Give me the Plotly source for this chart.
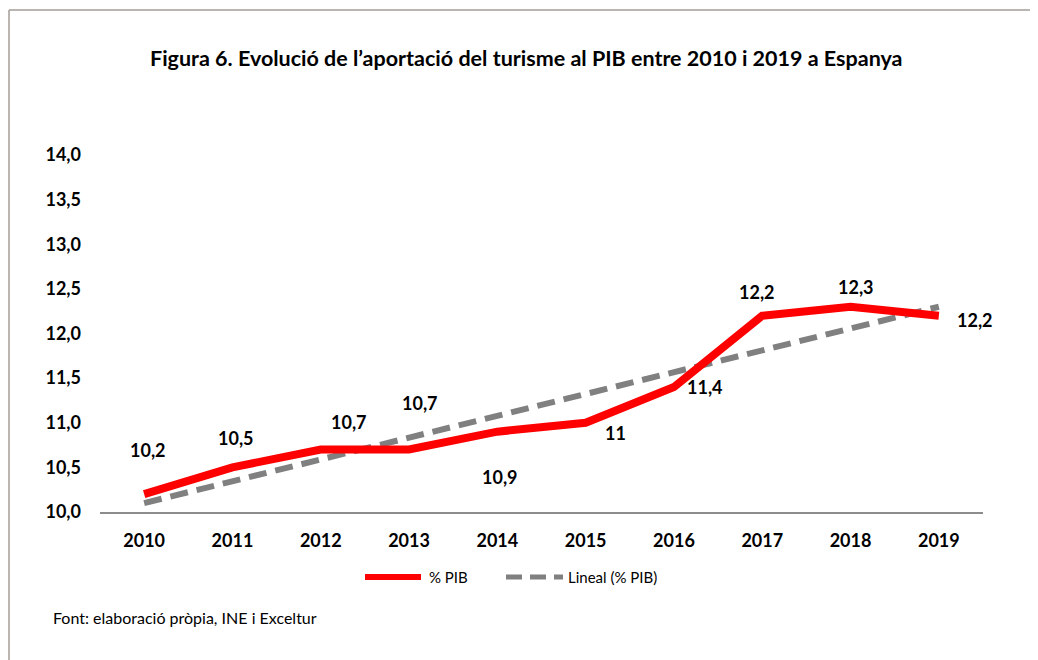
import plotly.graph_objects as go

years = ["2010", "2011", "2012", "2013", "2014", "2015", "2016", "2017", "2018", "2019"]
pib = [10.2, 10.5, 10.7, 10.7, 10.9, 11.0, 11.4, 12.2, 12.3, 12.2]
trend_years = ["2010", "2019"]
trend_vals = [10.1, 12.3]
y_ticks = [10.0, 10.5, 11.0, 11.5, 12.0, 12.5, 13.0, 13.5, 14.0]

FONT = "Lato"
OFF = 8  # page body margin
W, H = 1038 - OFF, 660 - OFF
# desired plot area in page pixels: x 100..983, y 155..512
L, T = 100 - OFF, 155 - OFF
PW, PH = 883, 357
R, B = W - L - PW, H - T - PH


def px(x):
    return (x - OFF - L) / PW


def py(y):
    return (T + PH - (y - OFF)) / PH


# label offsets in pixels (dx, dy) relative to each point
offsets = [(4, -44), (4, -29), (28, -28), (11, -47), (3, 45),
           (30, 10), (31, 0), (-5, -24), (5, -20), (36, 4)]

xi = list(range(len(years)))
fig = go.Figure()
fig.add_trace(go.Scatter(
    x=[years.index(y) for y in trend_years], y=trend_vals, mode="lines",
    line=dict(color="#808080", width=6, dash="18px,9px"),
    name="Lineal (% PIB)", showlegend=False, hoverinfo="skip"))
fig.add_trace(go.Scatter(
    x=xi, y=pib, mode="lines",
    line=dict(color="#FF0000", width=8),
    name="% PIB", showlegend=False))

annotations = []
for i, v in enumerate(pib):
    dx, dy = offsets[i]
    annotations.append(dict(
        x=i, y=v, xref="x", yref="y", text=f"{v:g}".replace(".", ","),
        showarrow=False, xshift=dx, yshift=-dy,
        font=dict(family=FONT, size=18, color="#000000", weight="bold")))

annotations.append(dict(
    x=px(526), y=py(58), xref="paper", yref="paper",
    text="<b>Figura 6. Evolució de l’aportació del turisme al PIB entre 2010 i 2019 a Espanya</b>",
    showarrow=False, xanchor="center", yanchor="middle",
    font=dict(family=FONT, size=21.5, color="#000000")))
annotations.append(dict(
    x=px(427), y=py(577), xref="paper", yref="paper", text="% PIB",
    showarrow=False, xanchor="left", yanchor="middle",
    font=dict(family=FONT, size=15, color="#000000")))
annotations.append(dict(
    x=px(566), y=py(577), xref="paper", yref="paper", text="Lineal (% PIB)",
    showarrow=False, xanchor="left", yanchor="middle",
    font=dict(family=FONT, size=15, color="#000000")))
annotations.append(dict(
    x=px(51), y=py(617), xref="paper", yref="paper",
    text="Font: elaboració pròpia, INE i Exceltur",
    showarrow=False, xanchor="left", yanchor="middle",
    font=dict(family=FONT, size=16, color="#000000")))

shapes = [
    dict(type="line", xref="paper", yref="paper", x0=px(365), x1=px(421),
         y0=py(577), y1=py(577), line=dict(color="#FF0000", width=6)),
    dict(type="line", xref="paper", yref="paper", x0=px(506), x1=px(563),
         y0=py(577), y1=py(577), line=dict(color="#808080", width=5, dash="16px,8px")),
    dict(type="line", xref="paper", yref="paper", x0=px(9), x1=px(1038),
         y0=py(10), y1=py(10), line=dict(color="#a59c99", width=1.5)),
    dict(type="line", xref="paper", yref="paper", x0=px(9), x1=px(9),
         y0=py(10), y1=py(660), line=dict(color="#a59c99", width=1.5)),
]

fig.update_layout(
    width=W, height=H,
    margin=dict(l=L, r=R, t=T, b=B),
    paper_bgcolor="white", plot_bgcolor="white",
    separators=",.",
    showlegend=False,
    annotations=annotations,
    shapes=shapes,
    xaxis=dict(
        range=[-0.5, len(years) - 0.5],
        tickmode="array", tickvals=xi, ticktext=years,
        showgrid=False, zeroline=False,
        showline=True, linecolor="#8c8c8c", linewidth=2,
        ticks="", ticklabelstandoff=11,
        tickfont=dict(family=FONT, size=18, color="#000000", weight="bold"),
        fixedrange=True),
    yaxis=dict(
        range=[10, 14], tickmode="array", tickvals=y_ticks,
        tickformat=".1f", showgrid=False, zeroline=False, showline=False,
        ticks="", ticklabelstandoff=18,
        tickfont=dict(family=FONT, size=18, color="#000000", weight="bold"),
        fixedrange=True),
)

fig.write_html("out.html")
